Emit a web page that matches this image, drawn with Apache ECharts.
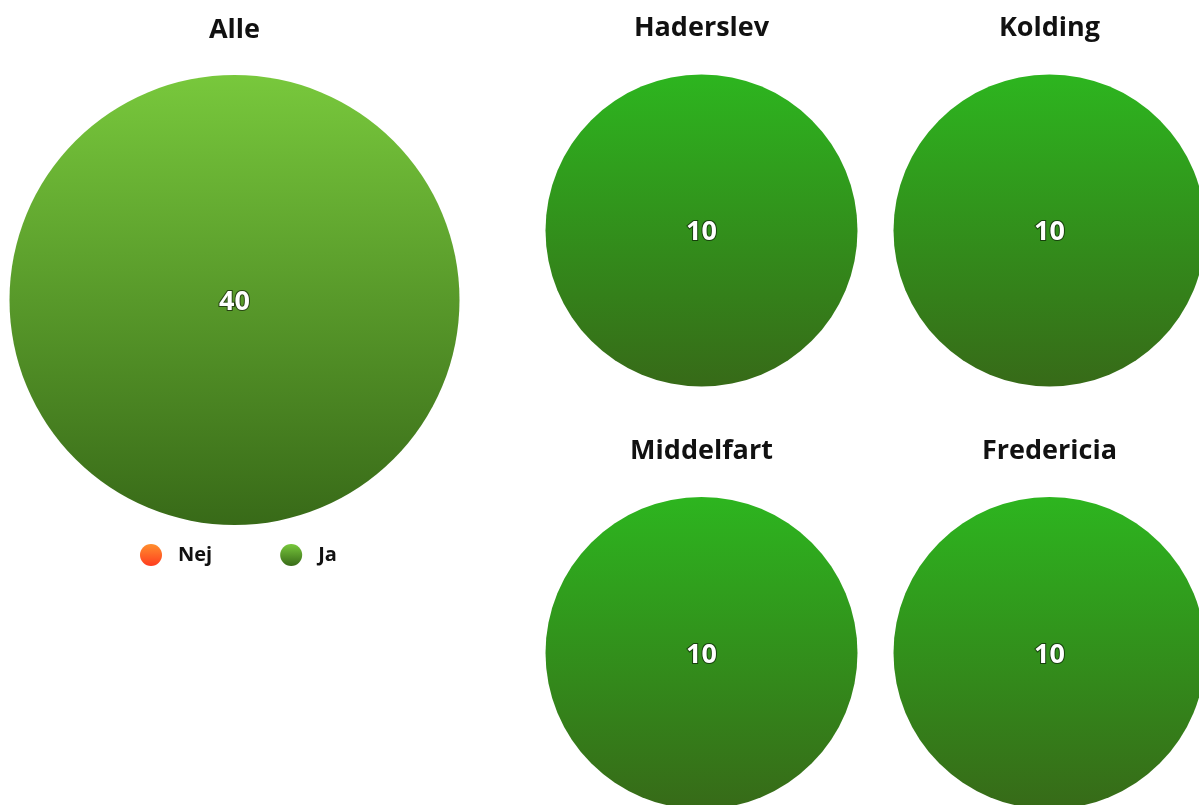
<!DOCTYPE html>
<html><head><meta charset="utf-8">
<script src="https://cdn.jsdelivr.net/npm/echarts@6/dist/echarts.min.js"></script>
<style>html,body{margin:0;padding:0;background:#fff}#c{width:1199px;height:805px}</style>
</head><body><div id="c"></div>
<script>
const categories = ["Nej", "Ja"];
const regions = ["Alle", "Haderslev", "Kolding", "Middelfart", "Fredericia"];
const nejValues = [0, 0, 0, 0, 0];
const jaValues = [40, 10, 10, 10, 10];

const layout = [
  {cx: 234.5, cy: 300, r: 225, ty: 17},
  {cx: 701.5, cy: 230.5, r: 156, ty: 15},
  {cx: 1049.5, cy: 230.5, r: 156, ty: 15},
  {cx: 701.5, cy: 653, r: 156, ty: 438},
  {cx: 1049.5, cy: 653, r: 156, ty: 438}
];
const font = '"Open Sans", "Noto Sans", sans-serif';
function grad(a, b) {
  return {type: 'linear', x: 0, y: 0, x2: 0, y2: 1, colorStops: [{offset: 0, color: a}, {offset: 1, color: b}]};
}
const nejColor = grad('#ff8f2e', '#ff3d1f');
const jaBig = grad('#78c83c', '#386a18');
const jaSmall = grad('#2db51f', '#376a18');

const chart = echarts.init(document.getElementById('c'));
chart.setOption({
  animation: false,
  title: regions.map((name, i) => ({
    text: name, left: layout[i].cx, top: layout[i].ty, textAlign: 'center', padding: 0,
    textStyle: {fontFamily: font, fontSize: 27, fontWeight: 'bold', color: '#111'}
  })),
  legend: {
    data: categories, left: 140, top: 544, padding: 0, itemWidth: 22, itemHeight: 22, itemGap: 68, icon: 'circle',
    textStyle: {fontFamily: font, fontSize: 20, fontWeight: 'bold', color: '#111', padding: [2, 0, 0, 11]}
  },
  series: regions.map((name, i) => ({
    type: 'pie', name: name,
    center: [layout[i].cx, layout[i].cy], radius: [0, layout[i].r],
    startAngle: 90, clockwise: true, silent: true,
    label: {
      show: true, position: 'center', offset: [0, 2],
      formatter: p => (p.value ? String(p.value) : ''),
      color: '#fff', fontFamily: font, fontSize: 27, fontWeight: 'bold',
      textBorderColor: 'rgba(0,0,0,0.55)', textBorderWidth: 2
    },
    labelLine: {show: false},
    emphasis: {disabled: true},
    data: [
      {name: categories[0], value: nejValues[i], itemStyle: {color: nejColor}},
      {name: categories[1], value: jaValues[i], itemStyle: {color: i === 0 ? jaBig : jaSmall}}
    ]
  }))
});
</script></body></html>
